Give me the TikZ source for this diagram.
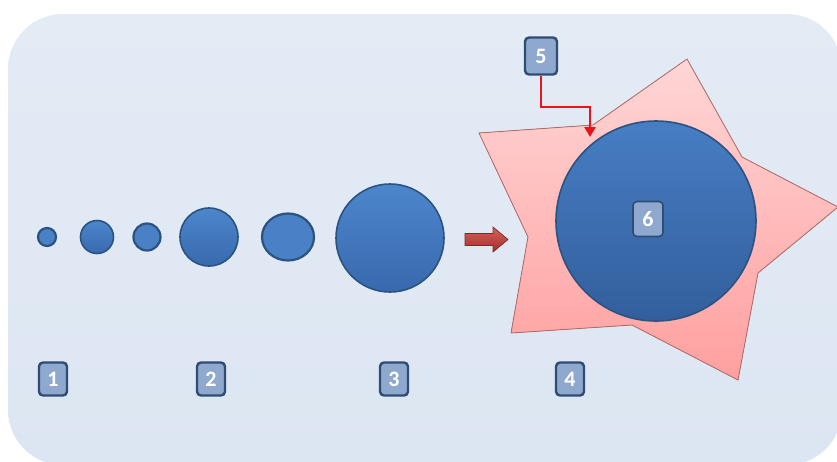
\documentclass[tikz,border=0pt]{standalone}
\usepackage{fontspec}
\newfontfamily\lblfont{Carlito}
\usetikzlibrary{shapes.geometric,arrows.meta,calc}
\definecolor{bgfill}{HTML}{DCE6F2}
\definecolor{bgtop}{HTML}{E3EBF5}
\definecolor{boxfill}{HTML}{8FA9CE}
\definecolor{boxline}{HTML}{2F4C74}
\definecolor{balltop}{HTML}{4D86CC}
\definecolor{ballbot}{HTML}{3869AE}
\definecolor{ballline}{HTML}{2C527F}
\definecolor{startop}{HTML}{FFD6D6}
\definecolor{starbot}{HTML}{FF9F9F}
\definecolor{starline}{HTML}{B26A66}
\definecolor{arrtop}{HTML}{D8605A}
\definecolor{arrbot}{HTML}{A0302C}
\definecolor{connred}{HTML}{E8141A}
\tikzset{
  lbl/.style={rectangle, rounded corners=4pt, draw=boxline, line width=2.4pt,
    fill=boxfill, text=white, minimum width=28pt, minimum height=33pt,
    inner sep=0pt, font=\lblfont\bfseries\fontsize{22}{22}\selectfont},
  ball/.style={circle, draw=ballline, line width=1.6pt, top color=balltop,
    bottom color=ballbot, inner sep=0pt},
  flatball/.style={circle, draw=ballline, line width=2.2pt, fill=balltop!80!ballbot, inner sep=0pt},
  conn/.style={draw=connred, line width=2.6pt, -{Triangle[length=10pt,width=11pt]}}
}
\begin{document}
\begin{tikzpicture}[x=1pt,y=-1pt]
\useasboundingbox (0,0) rectangle (837,461);
\fill[white] (0,0) rectangle (837,461);
\begin{scope}
\clip (0,0) rectangle (837,461);
\shade[top color=bgtop, bottom color=bgfill, rounded corners=55pt] (8,14) rectangle (842,465);
% star
\filldraw[draw=starline, line width=0.8pt, top color=startop, bottom color=starbot]
  (687,59) -- (742,157) -- (838,207) -- (758,273) -- (738,380) -- (632,325)
  -- (511,333) -- (528,237) -- (479,133) -- (593,125) -- cycle;
\end{scope}
% balls
\node[flatball, minimum size=18pt] (c1) at (47,237) {};
\node[ball, minimum size=33pt] (c2) at (97,237) {};
\node[flatball, minimum size=27pt] (c3) at (147,237) {};
\node[ball, minimum size=58pt] (c4) at (209,237) {};
\node[ellipse, draw=ballline, line width=2.2pt, fill=balltop!80!ballbot, inner sep=0pt,
  minimum width=52pt, minimum height=47pt] (c5) at (288,237) {};
\node[ball, minimum size=108pt] (c6) at (390,238) {};
\node[ball, minimum size=200pt, top color=balltop!70!ballbot, bottom color=ballbot!90!black] (c7) at (656,221) {};
% block arrow
\filldraw[draw=arrbot!80!black, line width=0.6pt, top color=arrtop, bottom color=arrbot]
  (465,233.5) -- (493,233.5) -- (493,227) -- (508,239.5) -- (493,252) -- (493,245.5) -- (465,245.5) -- cycle;
% labels
\node[lbl] (b1) at (53,379) {1};
\node[lbl] (b2) at (211,379) {2};
\node[lbl] (b3) at (394,379) {3};
\node[lbl] (b4) at (570,379) {4};
\node[lbl, minimum width=32pt, minimum height=37pt] (b5) at (541,56) {5};
\node[lbl, line width=1.6pt, minimum width=30pt, minimum height=35pt] (b6) at (648,219) {6};
% connector
\coordinate (bend) at (590,107);
\coordinate (tip) at (590,137);
\draw[conn] (b5.south) |- (bend) -- (tip);
\end{tikzpicture}
\end{document}
